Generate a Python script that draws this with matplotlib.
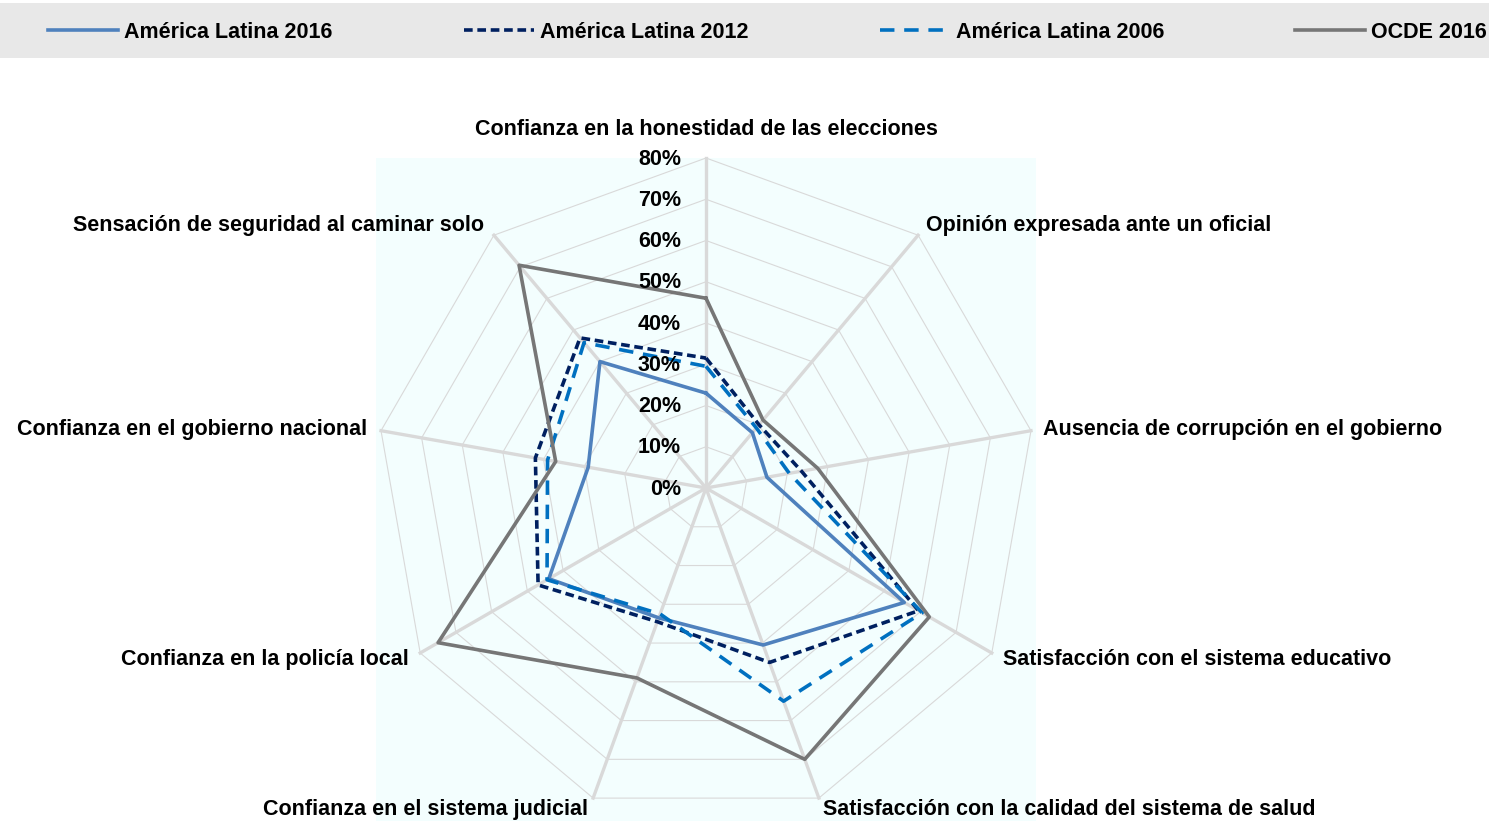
import numpy as np
import matplotlib
matplotlib.use("Agg")
import matplotlib.pyplot as plt
import matplotlib.patches as patches

plt.rcParams['font.family'] = ['Liberation Sans', 'DejaVu Sans']
plt.rcParams['font.weight'] = 'bold'

# Categories, clockwise from the top
categories = [
    "Confianza en la honestidad de las elecciones",
    "Opinión expresada ante un oficial",
    "Ausencia de corrupción en el gobierno",
    "Satisfacción con el sistema educativo",
    "Satisfacción con la calidad del sistema de salud",
    "Confianza en el sistema judicial",
    "Confianza en la policía local",
    "Confianza en el gobierno nacional",
    "Sensación de seguridad al caminar solo",
]

# Values in %
la_2016 = [23, 17.5, 15, 55.5, 40.5, 33.5, 44, 29, 40]
la_2012 = [31.5, 20, 23.5, 59.5, 45, 34.5, 47, 42, 47.5]
la_2006 = [29.5, 19, 20.5, 60.5, 55, 32.5, 44.5, 39, 46]
ocde_2016 = [46, 21.5, 27.5, 62.5, 70, 49, 75, 37, 70.5]

series_names = ["América Latina 2016", "América Latina 2012", "América Latina 2006", "OCDE 2016"]
r_ticks = [0, 10, 20, 30, 40, 50, 60, 70, 80]

W, H = 1489, 821
FS = 15.5
fig = plt.figure(figsize=(W / 100, H / 100), dpi=100)

# polar axes: centre (706, 488) px, radius 330 px
cx, cy, rad = 706, 488, 330
ax = fig.add_axes([(cx - rad) / W, (H - cy - rad) / H, 2 * rad / W, 2 * rad / H], projection='polar')
ax.patch.set_visible(False)
pos = ax.get_position()
fig.add_artist(patches.Rectangle((pos.x0, 0), pos.width, pos.y1, transform=fig.transFigure,
                                 facecolor='#F3FEFE', edgecolor='none', zorder=0))

ax.set_theta_zero_location('N')
ax.set_theta_direction(-1)
ax.set_ylim(0, 80)
ax.grid(False)
ax.spines['polar'].set_visible(False)
ax.set_xticks([])
ax.set_yticks([])

n = len(categories)
angles = np.linspace(0, 2 * np.pi, n, endpoint=False)
closed = np.concatenate([angles, angles[:1]])

grid_col = '#D9D9D9'
for r in r_ticks[1:]:
    ax.plot(closed, [r] * (n + 1), color=grid_col, lw=0.8, zorder=1, clip_on=False)
for a in angles:
    ax.plot([a, a], [0, r_ticks[-1]], color=grid_col, lw=2.4, zorder=1, clip_on=False)

styles = [
    dict(color='#4F81BD', lw=2.6, ls='-'),
    dict(color='#002060', lw=2.6, ls=(0, (2.4, 1.3))),
    dict(color='#0070C0', lw=2.6, ls=(0, (4.0, 2.7))),
    dict(color='#767676', lw=2.6, ls='-'),
]
handles = []
for vals, name, st in zip([la_2016, la_2012, la_2006, ocde_2016], series_names, styles):
    v = np.array(vals + vals[:1])
    h, = ax.plot(closed, v, label=name, zorder=3, clip_on=False, **st)
    handles.append(h)

# radial tick labels along the top spoke
for r in r_ticks:
    ax.annotate(f"{r}%", xy=(0, r), xytext=(-18, -0.8), textcoords='offset points',
                ha='right', va='center', fontsize=FS, fontweight='bold', annotation_clip=False)

# category labels
offsets = [(0, 20.5), (5.8, 6.9), (8.6, 1.2), (7.9, -4.6), (2.9, -8.2),
           (-3.6, -8.2), (-8.6, -4.6), (-10, 1.2), (-7.2, 6.9)]
aligns = ['center', 'left', 'left', 'left', 'left', 'right', 'right', 'right', 'right']
for a, lab, off, ha in zip(angles, categories, offsets, aligns):
    ax.annotate(lab, xy=(a, r_ticks[-1]), xytext=off, textcoords='offset points',
                ha=ha, va='center', fontsize=FS, fontweight='bold', annotation_clip=False)

# legend band
fig.add_artist(patches.Rectangle((0, (H - 58) / H), 1, 55 / H, transform=fig.transFigure,
                                 facecolor='#E8E8E8', edgecolor='none', zorder=0))
leg = fig.legend(handles=handles, loc='center left', ncol=4, mode='expand',
                 bbox_to_anchor=(48 / W, (H - 32) / H, (1487 - 48) / W, 0.0),
                 frameon=False, handlelength=3.25, handletextpad=0.28,
                 borderaxespad=0, borderpad=0, prop={'weight': 'bold', 'size': FS})

fig.savefig('out.png', dpi=100)
